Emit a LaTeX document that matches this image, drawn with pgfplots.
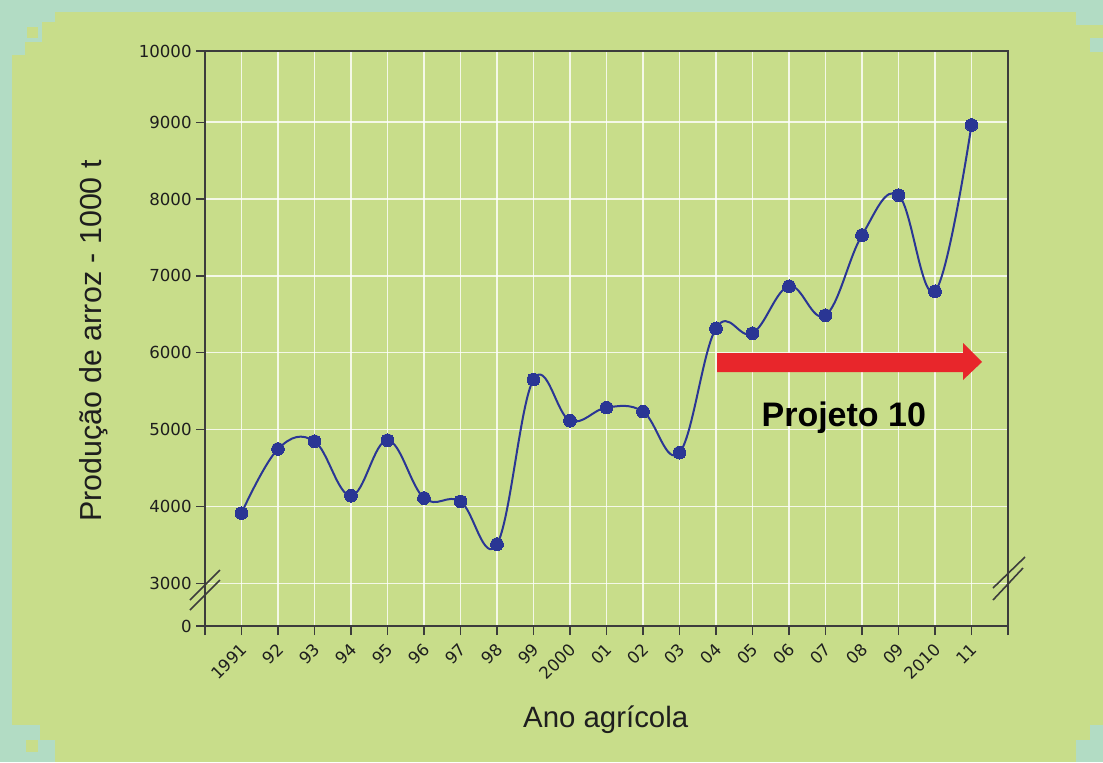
\documentclass[border=0pt]{standalone}
\usepackage{pgfplots}
\pgfplotsset{compat=1.18}
\usepackage{fontspec}
\setmainfont{Liberation Sans}
\newfontfamily\tickfont{DejaVu Sans}
\definecolor{bgg}{HTML}{C8DD8A}
\definecolor{mint}{HTML}{B2DCC4}
\definecolor{navy}{HTML}{2A3694}
\definecolor{axgray}{HTML}{3C3C3C}
\definecolor{arrred}{HTML}{E8262B}
\definecolor{txt}{HTML}{1E1E1E}
\begin{document}
\begin{tikzpicture}[x=0.5pt,y=-0.5pt]
% background frame
\fill[mint] (0,0) rectangle (1103,762);
\fill[bgg] (12,12) rectangle (1103,762);
\fill[mint] (12,12) rectangle (55,22);
\fill[mint] (12,22) rectangle (42,42);
\fill[mint] (12,42) rectangle (25,55);
\fill[bgg] (27,27) rectangle (38,38);
\fill[mint] (12,725) rectangle (40,762);
\fill[mint] (40,740) rectangle (55,762);
\fill[bgg] (26,740) rectangle (38,752);
\fill[mint] (1076,12) rectangle (1103,25);
\fill[mint] (1090,38) rectangle (1103,52);
\fill[mint] (1076,740) rectangle (1103,762);
\fill[mint] (1090,725) rectangle (1103,740);
\begin{axis}[
  at={(102.5pt,-313pt)}, anchor=south west,
  scale only axis, width=401.5pt, height=287.5pt,
  xmin=-1, xmax=21, ymin=2445, ymax=9926,
  axis line style={axgray, line width=0.8pt},
  xtick={0,...,20},
  xticklabels={1991,92,93,94,95,96,97,98,99,2000,01,02,03,04,05,06,07,08,09,2010,11},
  extra x ticks={-1,21}, extra x tick labels={}, extra x tick style={grid=none},
  ytick={2445,3000,4000,5000,6000,7000,8000,9000,9926},
  yticklabels={0,3000,4000,5000,6000,7000,8000,9000,10000},
  tick pos=left, tick align=outside, major tick length=4.5pt,
  tick style={axgray, line width=0.6pt},
  grid=major, grid style={white, line width=0.7pt, opacity=0.8},
  /pgf/number format/assume math mode=true,
  ticklabel style={font=\tickfont\fontsize{8.3pt}{10pt}\selectfont, text=txt},
  xticklabel style={xshift=2pt, yshift=-5pt, rotate=45, anchor=east, inner sep=1pt},
  yticklabel style={inner sep=2pt},
]
\addplot[navy, line width=1pt, smooth, tension=0.65, mark=*, mark size=3.2pt, mark options={fill=navy, draw=navy, line width=0pt}] coordinates {
(0,3914) (1,4748) (2,4848) (3,4140) (4,4861) (5,4110) (6,4066) (7,3510)
(8,5652) (9,5117) (10,5287) (11,5235) (12,4700) (13,6318) (14,6253)
(15,6866) (16,6487) (17,7530) (18,8050) (19,6800) (20,8963)
};
\end{axis}
% axis breaks
\draw[axgray, line width=0.8pt] (190,600)--(220,570) (190,610)--(220,580);
\draw[axgray, line width=0.8pt] (993,588)--(1025,557) (993,600)--(1023,568);
% arrow
\fill[arrred] (717,353) -- (963,353) -- (963,343) -- (982,362) -- (963,380) -- (963,372) -- (717,372) -- cycle;
\node[font=\bfseries\fontsize{17pt}{20pt}\selectfont, anchor=base, text=black] at (843.8,426) {Projeto 10};
% labels
\node[font=\fontsize{15.2pt}{18pt}\selectfont, rotate=90, text=txt] at (94,341) {Produção de arroz - 1000 t};
\node[font=\fontsize{14.7pt}{18pt}\selectfont, anchor=base, text=txt] at (605.7,727) {Ano agrícola};
\end{tikzpicture}
\end{document}
